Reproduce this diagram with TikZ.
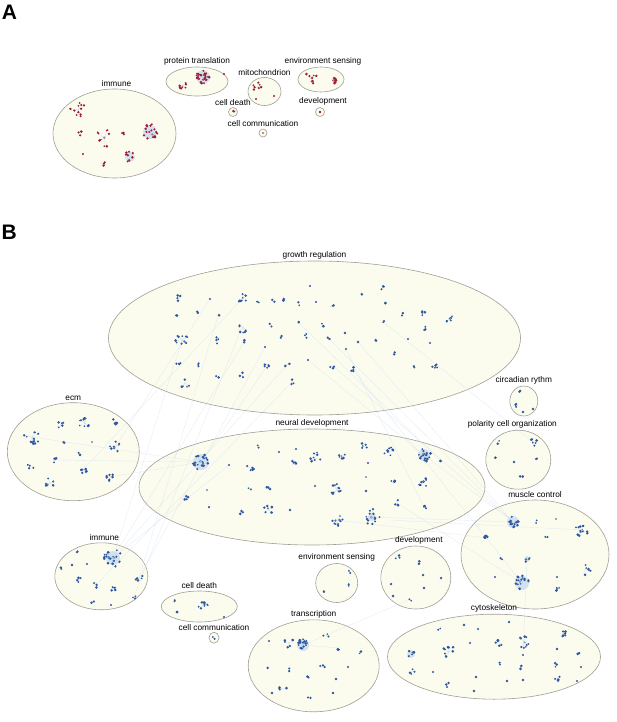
\documentclass[tikz,border=0pt]{standalone}
\usepackage{fontspec}
\setmainfont{Liberation Sans}
\usetikzlibrary{positioning,shapes.geometric}

\definecolor{regfill}{HTML}{FCFCEE}
\definecolor{regline}{HTML}{A09E94}
\definecolor{dotred}{HTML}{9E1A35}
\definecolor{dotblue}{HTML}{2F57A0}
\definecolor{edgeblue}{HTML}{C9DCEE}

\tikzset{
  reg/.style 2 args={ellipse, draw=regline, line width=0.6pt, fill=regfill,
    inner sep=0pt, minimum width=#1, minimum height=#2},
  lbl/.style={inner sep=0.5pt, font=\fontsize{8.3}{10}\selectfont},
  panel/.style={inner sep=0pt, font=\fontsize{21}{24}\selectfont\bfseries},
  link/.style={edgeblue, line width=0.4pt, opacity=0.5},
  halo/.style={fill=edgeblue, opacity=0.8},
}

\begin{document}
\begin{tikzpicture}[x=1pt,y=-1pt]
  \useasboundingbox (0,0) rectangle (617,722);
  \pgfmathsetseed{4}

  % a clump of n genes around (x,y), spread s
  \newcommand{\clump}[5]{%
    \foreach \k in {1,...,#3}{
      \pgfmathsetmacro{\ang}{360*rnd}
      \pgfmathsetmacro{\rr}{#4*sqrt(rnd)}
      \pgfmathsetmacro{\ds}{0.9+0.6*rnd}
      \draw[link] (#1,#2) -- ++(\ang:\rr);
      \fill[#5] (#1,#2) ++(\ang:\rr) circle (\ds pt);
    }}

  % Panel labels
  \node[panel] (pa) at (9.5,12) {A};
  \node[panel] (pb) at (9.3,232) {B};

  % Panel A regions
  \node[reg={123pt}{89pt}] (aimm) at (114.5,133.5) {};
  \node[reg={62pt}{29pt}] (aprot) at (197,81.5) {};
  \node[reg={33pt}{28pt}] (amito) at (264.5,91.5) {};
  \node[reg={46pt}{25pt}] (aenv) at (321,79.5) {};
  \node[reg={9pt}{9pt}] (adeath) at (233,112) {};
  \node[reg={9pt}{9pt}] (adev) at (320,112) {};
  \node[reg={8pt}{8pt}] (acomm) at (263,133) {};

  \node[lbl, above=1pt of aimm, xshift=2pt] (aimml) {immune};
  \node[lbl, above=1pt of aprot] (aprotl) {protein translation};
  \node[lbl, above=1pt of amito] (amitol) {mitochondrion};
  \node[lbl, above=1pt of aenv, xshift=2pt] (aenvl) {environment sensing};
  \node[lbl, above=1pt of adeath] (adeathl) {cell death};
  \node[lbl, above=1pt of adev, xshift=3pt] (adevl) {development};
  \node[lbl, above=1pt of acomm] (acomml) {cell communication};

  % Panel B regions
  \node[reg={412pt}{154pt}] (bgrow) at (314.5,338) {};
  \node[reg={28pt}{30pt}] (bcirc) at (523.8,401) {};
  \node[reg={132pt}{98pt}] (becm) at (73.3,451.7) {};
  \node[reg={346pt}{116pt}] (bneur) at (312,487) {};
  \node[reg={65pt}{59pt}] (bpol) at (518.3,459.7) {};
  \node[reg={148pt}{109pt}] (bmusc) at (535,554.5) {};
  \node[reg={93pt}{67pt}] (bimm) at (101.3,576.3) {};
  \node[reg={76pt}{31pt}] (bdeath) at (199.3,606.5) {};
  \node[reg={10pt}{11pt}] (bcomm) at (214,637.7) {};
  \node[reg={131pt}{92pt}] (btrans) at (313.7,665.8) {};
  \node[reg={42pt}{39pt}] (benv) at (336.7,583) {};
  \node[reg={70pt}{63pt}] (bdev) at (415.8,577.5) {};
  \node[reg={213pt}{85pt}] (bcyto) at (494,656.7) {};

  % faint links between regions
  \foreach \a/\b/\c/\d in {218/316/139/578, 242/327/134/596, 244/342/113/558,
      210/299/115/447, 242/299/83/470, 268/365/201/462, 287/365/113/558,
      292/382/96/585, 308/360/424/455, 333/366/513/522, 353/370/522/583,
      358/342/513/522, 382/321/533/442, 298/322/442/462, 329/339/513/522,
      346/349/424/507, 372/517/513/522, 390/520/582/530, 424/455/513/522,
      397/503/522/583, 337/520/487/538, 201/462/110/477, 32/437/201/462,
      54/460/201/462, 303/645/411/599, 303/645/339/648, 527/559/523/655,
      113/558/229/465, 182/340/113/558, 265/347/139/578}
    \draw[link] (\a,\b) -- (\c,\d);

  \node[lbl, above=1pt of bgrow] (bgrowl) {growth regulation};
  \node[lbl, above=1pt of bcirc] (bcircl) {circadian rythm};
  \node[lbl, above=1pt of becm] (becml) {ecm};
  \node[lbl, above=1pt of bneur] (bneurl) {neural development};
  \node[lbl, above=1pt of bpol, xshift=-6pt] (bpoll) {polarity cell organization};
  \node[lbl, above=1pt of bmusc] (bmuscl) {muscle control};
  \node[lbl, above=1pt of bimm, xshift=3pt] (biml) {immune};
  \node[lbl, above=1pt of bdeath] (bdeathl) {cell death};
  \node[lbl, above=1pt of bcomm] (bcomml) {cell communication};
  \node[lbl, above=1pt of btrans] (btransl) {transcription};
  \node[lbl, above=1pt of benv] (benvl) {environment sensing};
  \node[lbl, above=1pt of bdev, xshift=3pt] (bdevl) {development};
  \node[lbl, above=1pt of bcyto] (bcytol) {cytoskeleton};

  % dense hubs
  \foreach \x/\y/\r in {203/77/7, 150/132/7, 130/157/5, 201/462/8, 424/455/6,
      513/522/6, 527/559/3, 522/583/7, 113/558/7, 303/645/6, 411/654/4, 372/517/4}
    \fill[halo] (\x,\y) circle (\r pt);

  % Panel A genes
  \foreach \x/\y/\n/\s in {78/110/12/8, 80/135/3/4, 83/154/1/0, 104/138/10/9,
      101/163/3/4, 125/133/3/3, 150/132/18/8, 130/157/8/6,
      203/77/25/7, 183/85/8/5, 224/74/1/0,
      258/87/7/5, 256/99/1/0, 274/96/1/0,
      310/78/8/7, 332/79/8/5, 233/112/2/2, 320/112/1/0, 263/133/1/0}
    \clump{\x}{\y}{\n}{\s}{dotred};

  % Panel B genes
  \foreach \x/\y/\n/\s in {179/298/4/3, 210/299/1/0, 242/299/8/5, 257/302/2/2,
      273/301/2/2, 283/300/2/2, 310/286/1/0, 316/302/1/0, 298/304/2/2,
      333/306/2/2, 361/293/2/2, 384/288/3/3, 384/303/2/2, 402/314/2/2,
      424/312/4/4, 449/320/7/5, 176/315/2/2, 197/313/2/2, 218/316/2/2,
      243/327/7/6, 271/325/2/2, 298/322/2/2, 323/325/2/2, 345/333/1/0,
      382/321/2/2, 424/329/3/3, 182/340/10/7, 217/340/4/4, 244/342/2/2,
      265/347/1/0, 282/337/2/2, 307/335/3/3, 329/339/3/3, 346/349/1/0,
      358/342/1/0, 377/339/2/2, 393/353/2/2, 408/339/1/0, 430/343/1/0,
      179/363/3/3, 198/365/3/3, 268/365/5/4, 287/365/3/3, 308/360/1/0,
      333/366/3/3, 353/370/4/3, 414/367/2/2, 436/368/5/4, 185/383/5/5,
      217/377/2/2, 242/375/3/3, 292/382/4/3}
    \clump{\x}{\y}{\n}{\s}{dotblue};
  % ecm, circadian, polarity
  \foreach \x/\y/\n/\s in {32/437/12/8, 61/425/5/4, 85/423/10/6, 115/423/6/4,
      64/442/2/1, 92/442/1/0, 115/447/8/6, 80/454/2/2, 54/460/4/3,
      30/466/4/4, 83/470/6/4, 110/477/7/4, 50/483/8/5,
      520/392/2/2, 518/405/3/3, 533/409/1/0, 523/412/1/0,
      498/442/2/2, 533/442/6/4, 495/458/2/2, 514/462/1/0, 537/458/2/2, 523/477/3/3}
    \clump{\x}{\y}{\n}{\s}{dotblue};
  % neural development
  \foreach \x/\y/\n/\s in {201/462/22/8, 229/465/1/0, 250/468/5/4, 258/447/2/2,
      207/490/1/0, 186/497/4/3, 209/507/1/0, 242/512/3/3, 250/489/2/2,
      268/488/3/3, 268/510/8/5, 279/452/1/0, 293/465/5/4, 290/510/1/0,
      296/449/1/0, 315/458/9/6, 344/456/6/5, 365/446/5/4, 368/463/1/0,
      389/452/8/5, 424/455/18/7, 442/462/2/2, 315/486/1/0, 337/490/10/6,
      366/477/1/0, 366/491/1/0, 393/483/4/3, 422/483/7/6, 397/503/4/3,
      424/507/4/3, 337/520/10/6, 372/517/14/8}
    \clump{\x}{\y}{\n}{\s}{dotblue};
  % muscle control, immune, cell death, cell communication
  \foreach \x/\y/\n/\s in {513/522/16/6, 536/522/2/2, 556/519/1/0, 546/536/2/2,
      582/530/14/7, 487/538/7/4, 502/559/2/2, 527/559/4/3, 495/577/1/0,
      522/583/16/8, 557/577/1/0, 558/590/4/3, 585/570/6/6,
      113/558/22/9, 78/553/2/2, 72/565/1/0, 87/564/1/0, 61/569/2/2,
      79/580/4/3, 96/585/3/3, 114/590/5/3, 139/578/5/4, 134/596/3/3,
      92/601/2/2, 111/605/1/0,
      175/601/2/2, 176/612/2/2, 203/606/10/5, 224/617/1/0, 214/638/2/2}
    \clump{\x}{\y}{\n}{\s}{dotblue};
  % transcription, environment sensing, development
  \foreach \x/\y/\n/\s in {303/645/18/6, 289/643/6/5, 269/641/1/0, 326/635/3/3,
      339/648/2/2, 361/652/2/2, 267/667/2/2, 290/670/2/2, 307/678/2/2,
      322/667/3/3, 348/667/1/0, 336/679/1/0, 283/689/4/4, 272/693/1/0,
      309/697/2/2, 333/693/1/0,
      350/572/2/2, 348/585/2/2, 324/593/2/2,
      398/557/3/3, 419/562/2/2, 391/584/1/0, 423/575/1/0, 441/578/1/0,
      424/588/1/0, 393/596/1/0, 411/599/2/2}
    \clump{\x}{\y}{\n}{\s}{dotblue};
  % cytoskeleton
  \foreach \x/\y/\n/\s in {439/629/2/2, 464/625/1/0, 478/629/1/0, 509/622/1/0,
      411/654/6/4, 449/652/10/7, 412/672/4/3, 433/672/1/0, 447/685/3/3,
      470/643/1/0, 499/642/6/4, 499/663/2/2, 476/677/1/0, 474/691/1/0,
      507/681/1/0, 524/642/10/6, 523/655/1/0, 520/667/2/2, 523/680/1/0,
      563/634/6/4, 557/649/1/0, 555/664/3/3, 557/678/4/3, 578/653/2/2,
      581/667/1/0, 577/681/1/0}
    \clump{\x}{\y}{\n}{\s}{dotblue};
\end{tikzpicture}
\end{document}
